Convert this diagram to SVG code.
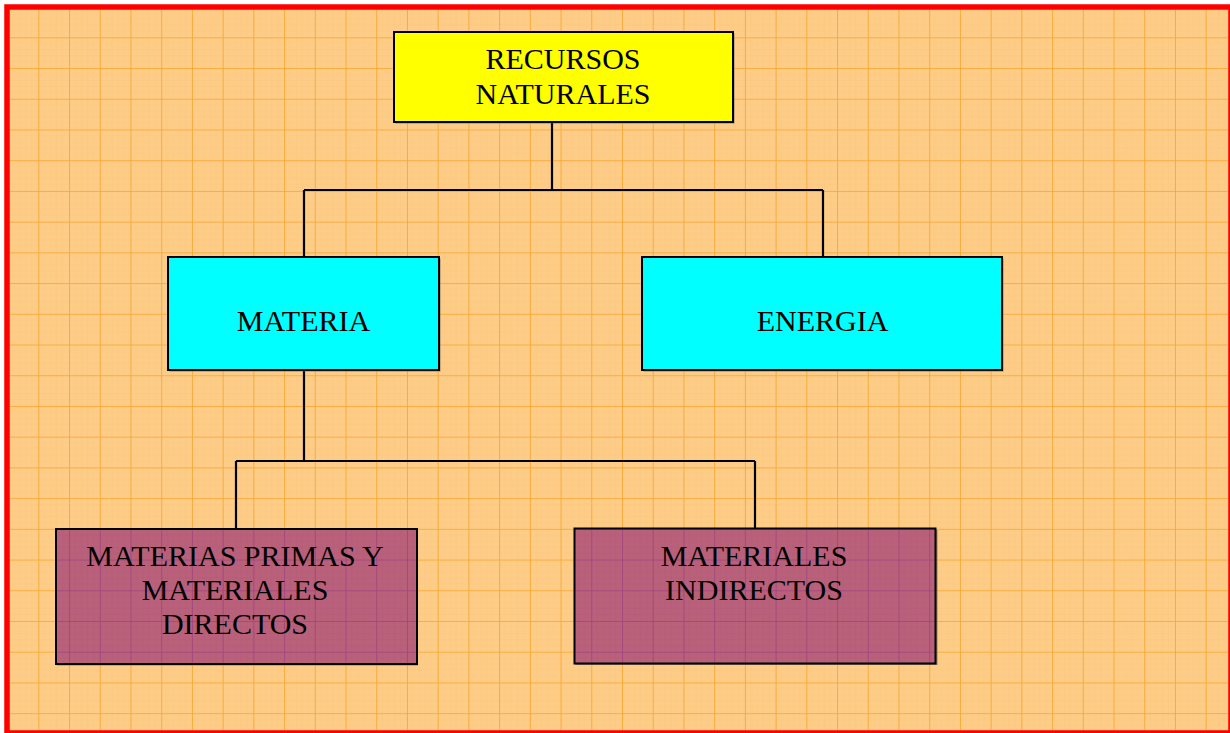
<svg xmlns="http://www.w3.org/2000/svg" width="1230" height="733" viewBox="0 0 1230 733">
<defs>
<pattern id="gridBg" x="7.6" y="6.6" width="30.72" height="30.72" patternUnits="userSpaceOnUse">
<rect width="30.72" height="30.72" fill="#FDCC87"/>
<path d="M6.144 0V30.72M12.288 0V30.72M18.432 0V30.72M24.576 0V30.72M0 6.144H30.72M0 12.288H30.72M0 18.432H30.72M0 24.576H30.72" stroke="#FCC57C" stroke-width="0.5" fill="none"/>
<path d="M0 0V30.72M0 0H30.72" stroke="#F9A32A" stroke-width="1.6" fill="none"/>
</pattern>
<pattern id="gridBox" x="7.6" y="6.6" width="30.72" height="30.72" patternUnits="userSpaceOnUse">
<rect width="30.72" height="30.72" fill="#B9607A"/>
<path d="M6.144 0V30.72M12.288 0V30.72M18.432 0V30.72M24.576 0V30.72M0 6.144H30.72M0 12.288H30.72M0 18.432H30.72M0 24.576H30.72" stroke="#B35A7A" stroke-width="0.5" fill="none"/>
<path d="M0 0V30.72M0 0H30.72" stroke="#A0427F" stroke-width="1.6" fill="none"/>
</pattern>
</defs>
<style>
.box{stroke:#000;stroke-width:2}
.shadow{fill:#555;opacity:0.6}
.lbl{font-family:"Liberation Serif","Times New Roman",serif;font-size:30px;fill:#000;text-anchor:middle}
.conn{fill:none;stroke:#000;stroke-width:2.2}
</style>
<rect x="0" y="0" width="1230" height="733" fill="#FFFFFF"/>
<rect x="7" y="7" width="1224" height="726" fill="url(#gridBg)" stroke="#FF0000" stroke-width="5.5"/>
<g id="connectors">
<path class="conn" d="M552 122V190M304 190H823M304 190V258M823 190V258"/>
<path class="conn" d="M304 371V461M236 461H755M236 461V529M755 461V529"/>
</g>
<g id="recursos">
<rect class="shadow" x="395.5" y="33.5" width="339" height="90"/>
<rect class="box" x="394" y="32" width="339" height="90" fill="#FFFF00"/>
<text class="lbl" x="563" y="68.5">RECURSOS</text>
<text class="lbl" x="563" y="103.5">NATURALES</text>
</g>
<g id="materia">
<rect class="shadow" x="169.5" y="258.5" width="271" height="113"/>
<rect class="box" x="168" y="257" width="271" height="113" fill="#00FFFF"/>
<text class="lbl" x="303.5" y="330.5">MATERIA</text>
</g>
<g id="energia">
<rect class="shadow" x="643.5" y="258.5" width="360" height="113"/>
<rect class="box" x="642" y="257" width="360" height="113" fill="#00FFFF"/>
<text class="lbl" x="822.5" y="330.5">ENERGIA</text>
</g>
<g id="materias-primas">
<rect class="shadow" x="57" y="530.5" width="361" height="135"/>
<rect class="box" x="56" y="529" width="361" height="135" fill="url(#gridBox)"/>
<text class="lbl" x="235" y="565.5">MATERIAS PRIMAS Y</text>
<text class="lbl" x="235" y="600">MATERIALES</text>
<text class="lbl" x="235" y="634">DIRECTOS</text>
</g>
<g id="materiales-indirectos">
<rect class="shadow" x="575.5" y="530" width="362" height="135"/>
<rect class="box" x="574.5" y="528.5" width="361" height="135" fill="url(#gridBox)"/>
<text class="lbl" x="754" y="565.5">MATERIALES</text>
<text class="lbl" x="754" y="600">INDIRECTOS</text>
</g>
</svg>
